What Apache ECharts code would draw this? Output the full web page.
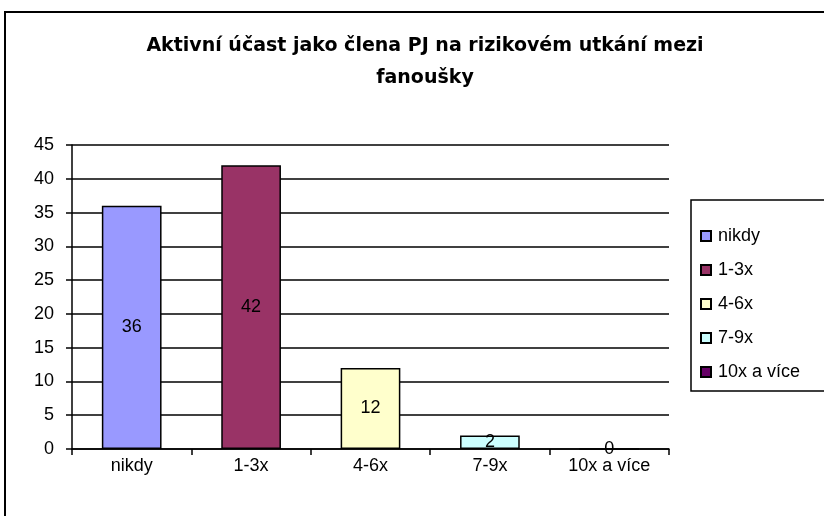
<!DOCTYPE html>
<html>
<head>
<meta charset="utf-8">
<script src="https://cdn.jsdelivr.net/npm/echarts@6/dist/echarts.min.js"></script>
<style>
html,body{margin:0;padding:0;background:#fff;}
#chart{width:824px;height:516px;}
</style>
</head>
<body>
<div id="chart"></div>
<script>
var titleLines = ['Aktivní účast jako člena PJ na rizikovém utkání mezi', 'fanoušky'];
var categories = ['nikdy', '1-3x', '4-6x', '7-9x', '10x a více'];
var values = [36, 42, 12, 2, 0];
var colors = ['#9999FF', '#993366', '#FFFFCC', '#CCFFFF', '#660066'];
var yTicks = { min: 0, max: 45, interval: 5 };

var FONT = 'Liberation Sans';
var FS = 18;
var chart = echarts.init(document.getElementById('chart'), null, { renderer: 'canvas' });

var series = categories.map(function (name, i) {
  var d = categories.map(function (c, j) { return j === i ? values[i] : '-'; });
  return {
    name: name,
    type: 'bar',
    stack: 'all',
    barWidth: '50%',
    data: d,
    itemStyle: { color: colors[i], borderColor: '#000', borderWidth: 1.5 },
    label: {
      show: true, position: 'inside', color: '#000',
      fontFamily: FONT, fontSize: FS
    }
  };
});

chart.setOption({
  animation: false,
  backgroundColor: '#fff',
  textStyle: { fontFamily: FONT },
  graphic: [
    { type: 'rect', shape: { x: 5, y: 12, width: 900, height: 600 }, style: { fill: 'none', stroke: '#000', lineWidth: 2 }, silent: true, z: -1 },
    { type: 'rect', shape: { x: 691, y: 200, width: 200, height: 191 }, style: { fill: 'none', stroke: '#000', lineWidth: 1.5 }, silent: true },
    { type: 'text', x: 425, y: 46, style: { text: titleLines[0], font: 'bold 19px "DejaVu Sans"', fill: '#000', textAlign: 'center', textVerticalAlign: 'middle' } },
    { type: 'text', x: 425, y: 78, style: { text: titleLines[1], font: 'bold 19px "DejaVu Sans"', fill: '#000', textAlign: 'center', textVerticalAlign: 'middle' } }
  ],
  legend: {
    orient: 'vertical',
    left: 700, top: 227,
    padding: 0,
    itemWidth: 10, itemHeight: 10, itemGap: 16,
    icon: 'rect',
    textStyle: { fontFamily: FONT, fontSize: FS, color: '#000', lineHeight: 18, padding: [0, 0, 0, 2] },
    data: categories
  },
  grid: { left: 72, right: 155, top: 145, bottom: 67, containLabel: false },
  xAxis: {
    type: 'category',
    data: categories,
    boundaryGap: true,
    axisLine: { lineStyle: { color: '#000', width: 1.5 } },
    axisTick: { show: true, length: 6, lineStyle: { color: '#000', width: 1.5 } },
    axisLabel: { color: '#000', fontFamily: FONT, fontSize: FS, margin: 8 }
  },
  yAxis: {
    type: 'value',
    min: yTicks.min, max: yTicks.max, interval: yTicks.interval,
    axisLine: { show: true, lineStyle: { color: '#000', width: 1.5 } },
    axisTick: { show: true, length: 6, lineStyle: { color: '#000', width: 1.5 } },
    axisLabel: { color: '#000', fontFamily: FONT, fontSize: FS, margin: 18 },
    splitLine: { show: true, lineStyle: { color: '#000', width: 1.5 } }
  },
  series: series
});
</script>
</body>
</html>
